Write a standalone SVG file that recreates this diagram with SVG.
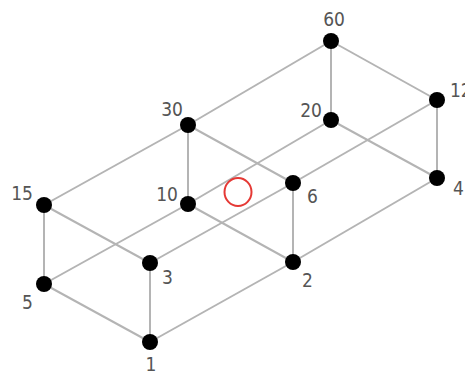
<svg xmlns="http://www.w3.org/2000/svg" width="465" height="373" viewBox="0 0 465 373">
<style>
.e{stroke:#b4b4b4;stroke-width:2;fill:none}
.n{fill:#000}
.t{font-family:"DejaVu Sans",sans-serif;font-stretch:condensed;font-size:19px;fill:#555}
</style>
<rect width="465" height="373" fill="#fff"/>
<g id="edges" class="e">
<line x1="150" y1="342" x2="293" y2="262"/>
<line x1="150" y1="342" x2="150" y2="263"/>
<line x1="150" y1="342" x2="44" y2="284"/>
<line x1="293" y1="262" x2="437" y2="178"/>
<line x1="293" y1="262" x2="293" y2="183"/>
<line x1="293" y1="262" x2="188" y2="204"/>
<line x1="150" y1="263" x2="293" y2="183"/>
<line x1="150" y1="263" x2="44" y2="205"/>
<line x1="44" y1="284" x2="188" y2="204"/>
<line x1="44" y1="284" x2="44" y2="205"/>
<line x1="437" y1="178" x2="437" y2="100"/>
<line x1="437" y1="178" x2="331" y2="120"/>
<line x1="293" y1="183" x2="437" y2="100"/>
<line x1="293" y1="183" x2="188" y2="125"/>
<line x1="188" y1="204" x2="331" y2="120"/>
<line x1="188" y1="204" x2="188" y2="125"/>
<line x1="44" y1="205" x2="188" y2="125"/>
<line x1="437" y1="100" x2="331" y2="41"/>
<line x1="331" y1="120" x2="331" y2="41"/>
<line x1="188" y1="125" x2="331" y2="41"/>
</g>
<g id="n1"><circle class="n" cx="150" cy="342" r="8"/><text class="t" x="151" y="371" text-anchor="middle">1</text></g>
<g id="n2"><circle class="n" cx="293" cy="262" r="8"/><text class="t" x="302" y="287">2</text></g>
<g id="n3"><circle class="n" cx="150" cy="263" r="8"/><text class="t" x="162" y="284">3</text></g>
<g id="n4"><circle class="n" cx="437" cy="178" r="8"/><text class="t" x="453" y="195">4</text></g>
<g id="n5"><circle class="n" cx="44" cy="284" r="8"/><text class="t" x="22" y="309">5</text></g>
<g id="n6"><circle class="n" cx="293" cy="183" r="8"/><text class="t" x="307" y="203">6</text></g>
<g id="n10"><circle class="n" cx="188" cy="204" r="8"/><text class="t" x="178" y="201" text-anchor="end">10</text></g>
<g id="n12"><circle class="n" cx="437" cy="100" r="8"/><text class="t" x="450" y="97">12</text></g>
<g id="n15"><circle class="n" cx="44" cy="205" r="8"/><text class="t" x="33" y="200" text-anchor="end">15</text></g>
<g id="n20"><circle class="n" cx="331" cy="120" r="8"/><text class="t" x="322" y="117" text-anchor="end">20</text></g>
<g id="n30"><circle class="n" cx="188" cy="125" r="8"/><text class="t" x="183" y="116" text-anchor="end">30</text></g>
<g id="n60"><circle class="n" cx="331" cy="41" r="8"/><text class="t" x="334" y="26" text-anchor="middle">60</text></g>
<ellipse cx="238" cy="192" rx="13.5" ry="14" fill="none" stroke="#e53935" stroke-width="2"/>
</svg>
